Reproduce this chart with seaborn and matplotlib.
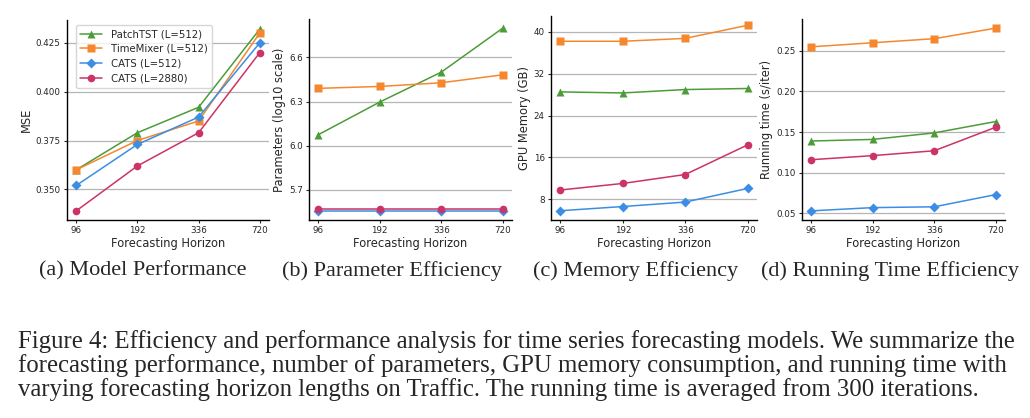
import pandas as pd
import numpy as np
import matplotlib.pyplot as plt
import seaborn as sns

# datos
horizons = [96, 192, 336, 720]
models = ['PatchTST (L=512)', 'TimeMixer (L=512)', 'CATS (L=512)', 'CATS (L=2880)']

mse_patchtst = [0.360, 0.379, 0.392, 0.432]
mse_timemixer = [0.360, 0.375, 0.385, 0.430]
mse_cats512 = [0.352, 0.373, 0.387, 0.425]
mse_cats2880 = [0.339, 0.362, 0.379, 0.420]

params_patchtst = [6.075, 6.297, 6.500, 6.799]
params_timemixer = [6.390, 6.403, 6.428, 6.482]
params_cats512 = [5.558, 5.558, 5.558, 5.558]
params_cats2880 = [5.571, 5.571, 5.571, 5.571]

mem_patchtst = [28.5, 28.3, 28.95, 29.15]
mem_timemixer = [38.15, 38.15, 38.7, 41.2]
mem_cats512 = [5.85, 6.65, 7.5, 10.1]
mem_cats2880 = [9.8, 11.05, 12.75, 18.4]

time_patchtst = [0.139, 0.141, 0.149, 0.163]
time_timemixer = [0.255, 0.260, 0.265, 0.278]
time_cats512 = [0.053, 0.057, 0.058, 0.073]
time_cats2880 = [0.116, 0.121, 0.127, 0.156]

colors = ['#4c9c3a', '#f5882e', '#3b8ee4', '#cc3366']
markers = ['^', 's', 'D', 'o']

panels = [
    ('MSE', [mse_patchtst, mse_timemixer, mse_cats512, mse_cats2880],
     [0.350, 0.375, 0.400, 0.425], '{:.3f}', '(a) Model Performance'),
    ('Parameters (log10 scale)', [params_patchtst, params_timemixer, params_cats512, params_cats2880],
     [5.7, 6.0, 6.3, 6.6], '{:.1f}', '(b) Parameter Efficiency'),
    ('GPU Memory (GB)', [mem_patchtst, mem_timemixer, mem_cats512, mem_cats2880],
     [8, 16, 24, 32, 40], '{:.0f}', '(c) Memory Efficiency'),
    ('Running time (s/iter)', [time_patchtst, time_timemixer, time_cats512, time_cats2880],
     [0.05, 0.10, 0.15, 0.20, 0.25], '{:.2f}', '(d) Running Time Efficiency'),
]

sns.set_style('ticks')

fig = plt.figure(figsize=(10.3, 4.18), dpi=100)
W, H = 1030, 418
# left, right, top (pixels) de cada panel
boxes = [(67, 269, 20), (309, 512, 19), (551, 757, 16), (802, 1005, 19)]
caption_x = [143, 392, 636, 890]
bottom = 220

for i, (ylabel, series, yticks, fmt, caption) in enumerate(panels):
    l, r, t = boxes[i]
    ax = fig.add_axes([l / W, 1 - bottom / H, (r - l) / W, (bottom - t) / H])
    rows = []
    for m, vals in zip(models, series):
        for j, v in enumerate(vals):
            rows.append({'pos': j, 'value': v, 'model': m})
    df = pd.DataFrame(rows)
    sns.lineplot(data=df, x='pos', y='value', hue='model', style='model',
                 hue_order=models, style_order=models, palette=colors,
                 markers=markers, dashes=False, markersize=5.5, linewidth=1.1,
                 markeredgewidth=0.5, markeredgecolor='none', ax=ax, legend=(i == 0))
    ax.set_xticks(range(len(horizons)))
    ax.set_xticklabels([str(h) for h in horizons])
    ax.set_yticks(yticks)
    ax.set_yticklabels([fmt.format(v) for v in yticks])
    ax.tick_params(labelsize=6.3, length=2.5, width=0.8, pad=2)
    ax.yaxis.grid(True, color='#b5b5b5', linewidth=0.9)
    ax.set_axisbelow(True)
    ax.set_xlabel('Forecasting Horizon', fontsize=8.3, labelpad=1)
    ax.set_ylabel(ylabel, fontsize=8.3, labelpad=2)
    for s in ['left', 'bottom']:
        ax.spines[s].set_linewidth(1.0)
        ax.spines[s].set_color('black')
    sns.despine(ax=ax)
    if i == 0:
        ax.legend(loc='upper left', fontsize=7.3, frameon=True, handlelength=2.2,
                  borderpad=0.4, labelspacing=0.48, bbox_to_anchor=(0.02, 1.0))
    fig.text(caption_x[i] / W, 1 - 271 / H, caption, ha='center', va='center',
             fontsize=16, family='Liberation Serif')

caption_lines = [
    'Figure 4: Efficiency and performance analysis for time series forecasting models. We summarize the',
    'forecasting performance, number of parameters, GPU memory consumption, and running time with',
    'varying forecasting horizon lengths on Traffic. The running time is averaged from 300 iterations.',
]
for k, line in enumerate(caption_lines):
    fig.text(18 / W, 1 - (342 + 24 * k) / H, line, ha='left', va='center',
             fontsize=17.8, family='Liberation Serif')

fig.savefig('out.png', dpi=100, facecolor='white')
